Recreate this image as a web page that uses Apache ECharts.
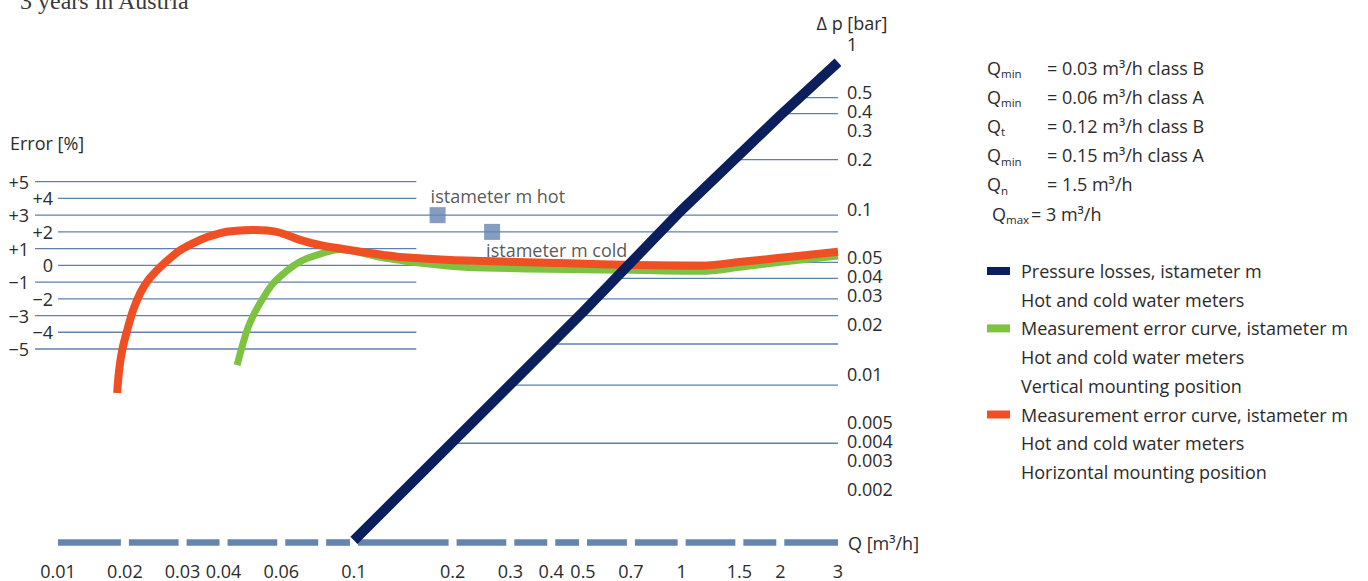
<!DOCTYPE html>
<html><head><meta charset="utf-8">
<script src="https://cdn.jsdelivr.net/npm/echarts@6/dist/echarts.min.js"></script>
<style>html,body{margin:0;padding:0;background:#fff}#c{width:1368px;height:581px}</style>
</head><body><div id="c"></div>
<script>
// ---------------- data ----------------
const X_MIN = 0.0125;           // drawn start of the flow axis (labelled 0.01)
const X_MAX = 3;
const X_TICK_VALUES = [0.01, 0.02, 0.03, 0.04, 0.06, 0.1, 0.2, 0.3, 0.4, 0.5, 0.7, 1, 1.5, 2, 3];
const X_TICK_LABELS = ['0.01', '0.02', '0.03', '0.04', '0.06', '0.1', '0.2', '0.3', '0.4', '0.5', '0.7', '1', '1.5', '2', '3'];
const X_DASH_BREAKS = [0.02, 0.03, 0.04, 0.06, 0.08, 0.1, 0.2, 0.3, 0.4, 0.5, 0.7, 1, 1.5, 2];

const P_MIN = 0.001, P_MAX = 1;
const P_TICK_VALUES = [1, 0.5, 0.4, 0.3, 0.2, 0.1, 0.05, 0.04, 0.03, 0.02, 0.01, 0.005, 0.004, 0.003, 0.002];
const P_TICK_LABELS = ['1', '0.5', '0.4', '0.3', '0.2', '0.1', '0.05', '0.04', '0.03', '0.02', '0.01', '0.005', '0.004', '0.003', '0.002'];
const P_GRID_VALUES = [0.5, 0.4, 0.21, 0.05, 0.04, 0.016, 0.009, 0.004];

const ERR_TICK_VALUES = [5, 4, 3, 2, 1, 0, -1, -2, -3, -4, -5];
const ERR_TICK_LABELS = ['+5', '+4', '+3', '+2', '+1', '0', '\u22121', '\u22122', '\u22123', '\u22124', '\u22125'];
const ERR_LONG_LINES = [3, 2, -2, -3];
const ERR_GRID_END_Q = 0.155;

const PRESSURE_Q  = [0.1, 0.5, 1, 2, 3];
const PRESSURE_DP = [0.00103, 0.025, 0.104, 0.39, 0.82];

// vertical mounting position (green)
const VERT_Q   = [0.0440, 0.0472, 0.0499, 0.0531, 0.0566, 0.0611, 0.0659, 0.0721, 0.0869, 0.0911, 0.097, 0.123, 0.138, 0.156, 0.197, 0.25, 0.45, 0.71, 1.15, 1.5, 2, 3];
const VERT_ERR = [-5.96, -3.87, -2.79, -1.88, -1.09, -0.48, 0.02, 0.42, 0.91, 0.94, 0.9, 0.45, 0.3, 0.15, -0.05, -0.16, -0.25, -0.3, -0.36, -0.12, 0.18, 0.56];

// horizontal mounting position (red)
const HORIZ_Q   = [0.01894, 0.01921, 0.01963, 0.02033, 0.0212, 0.02228, 0.02356, 0.02564, 0.02752, 0.02952, 0.03235, 0.0357, 0.03914, 0.04288, 0.04938, 0.05846, 0.0688, 0.0792, 0.0978, 0.123, 0.138, 0.197, 0.25, 0.45, 0.71, 1.15, 1.5, 2, 3];
const HORIZ_ERR = [-7.63, -6.26, -5.06, -3.87, -2.67, -1.66, -0.88, -0.10, 0.44, 0.91, 1.33, 1.69, 1.93, 2.05, 2.11, 1.99, 1.51, 1.2, 0.9, 0.62, 0.5, 0.32, 0.26, 0.12, 0.02, -0.02, 0.2, 0.45, 0.81];

const MARKER_Q = [0.18, 0.264];
const MARKER_ERR = [3, 2];
const MARKER_LABELS = ['istameter m hot', 'istameter m cold'];

const SERIES_NAMES = ['Pressure losses', 'Error vertical', 'Error horizontal'];
const LEGEND_LINES = [
  ['Pressure losses, istameter m', 'Hot and cold water meters'],
  ['Measurement error curve, istameter m', 'Hot and cold water meters', 'Vertical mounting position'],
  ['Measurement error curve, istameter m', 'Hot and cold water meters', 'Horizontal mounting position']
];
const Q_DEF_SUB  = ['min', 'min', 't', 'min', 'n', 'max'];
const Q_DEF_TEXT = ['= 0.03 m\u00b3/h class B', '= 0.06 m\u00b3/h class A', '= 0.12 m\u00b3/h class B',
                    '= 0.15 m\u00b3/h class A', '= 1.5 m\u00b3/h', '= 3 m\u00b3/h'];
const HEADLINE = '3 years in Austria';

// ---------------- style ----------------
const FONT = '"Open Sans", "Noto Sans", sans-serif';
const TEXT = '#2b2b2b';
const GRID_COLOR = '#6181ad';
const AXIS_COLOR = '#6585b0';
const C_BLUE = '#0b1f5c', C_GREEN = '#7dc243', C_RED = '#f04e23';
const FS = 18;
const GRID0 = {left: 58, right: 530, top: 48, bottom: 38.5};
const CHART_H = 581;

// ---------------- helpers ----------------
const zip = (a, b) => a.map((v, i) => [v, b[i]]);
const near = (a, b) => Math.abs(Math.log10(a) - Math.log10(b)) < 1e-6;
function qAtPressure(p) {
  const lp = Math.log10(p);
  for (let i = 0; i < PRESSURE_Q.length - 1; i++) {
    const a = Math.log10(PRESSURE_DP[i]), b = Math.log10(PRESSURE_DP[i + 1]);
    if (lp >= a && lp <= b) {
      const t = (lp - a) / (b - a);
      return Math.pow(10, Math.log10(PRESSURE_Q[i]) + t * (Math.log10(PRESSURE_Q[i + 1]) - Math.log10(PRESSURE_Q[i])));
    }
  }
  return X_MAX;
}
const X_LABEL_POS = X_TICK_VALUES.map(v => Math.max(v, X_MIN));
const DASH_BOUNDS = [X_MIN].concat(X_DASH_BREAKS, [X_MAX]);

// right-axis labels sit a little above their value; crowded neighbours are spread apart
const P_LABEL_SHIFT = (function () {
  const H = CHART_H - GRID0.top - GRID0.bottom;
  const pos = P_TICK_VALUES.map(p => H * (1 - Math.log10(p / P_MIN) / Math.log10(P_MAX / P_MIN)));
  const c = pos.map(y => y - 4);
  const MIN_GAP = 19;
  for (let i = 0; i < c.length - 1; i++) {
    const gap = c[i + 1] - c[i];
    if (gap < MIN_GAP) { const d = (MIN_GAP - gap) / 2; c[i] -= d; c[i + 1] += d; }
  }
  return c.map((y, i) => y - pos[i]);
})();
const P_RICH = {};
P_LABEL_SHIFT.forEach((s, i) => {
  P_RICH['p' + i] = {fontFamily: FONT, fontSize: FS, color: TEXT, lineHeight: 20,
    padding: s >= 0 ? [2 * s, 0, 0, 0] : [0, 0, -2 * s, 0]};
});

const chart = echarts.init(document.getElementById('c'), null, {renderer: 'svg'});

const plain = {fontFamily: FONT, fontWeight: 'normal', fontSize: FS, lineHeight: 24, color: TEXT};
const titles = [];
titles.push({text: HEADLINE, left: 20, top: -12, padding: 0,
  textStyle: {fontFamily: '"Liberation Serif", "DejaVu Serif", serif', fontWeight: 'normal', fontSize: 24, lineHeight: 26, color: '#3a3a3a'}});
titles.push({text: 'Error [%]', left: 10, top: 131, padding: 0, textStyle: plain});
Q_DEF_SUB.forEach((sub, k) => {
  const isMax = sub === 'max';
  titles.push({
    text: '{q|Q}{s|' + sub + '}{t|' + Q_DEF_TEXT[k] + '}',
    left: isMax ? 992 : 987, top: 67.5 + k * 29.2 - 12, padding: 0,
    textStyle: {
      fontWeight: 'normal',
      rich: {
        q: {fontFamily: FONT, fontWeight: 'normal', fontSize: FS, lineHeight: 24, color: TEXT, width: 14},
        s: {fontFamily: FONT, fontWeight: 'normal', fontSize: 11.5, lineHeight: 7, verticalAlign: 'bottom', color: TEXT, width: isMax ? 25 : 46},
        t: {fontFamily: FONT, fontWeight: 'normal', fontSize: FS, lineHeight: 24, color: TEXT}
      }
    }
  });
});
let lineIdx = 0;
const LEGEND_TOPS = [];
LEGEND_LINES.forEach(lines => {
  lines.forEach((txt, j) => {
    const cy = 271 + lineIdx * 28.7;
    if (j === 0) LEGEND_TOPS.push(cy);
    else titles.push({text: txt, left: 1021, top: cy - 12, padding: 0, textStyle: plain});
    lineIdx++;
  });
});

const option = {
  animation: false,
  backgroundColor: '#ffffff',
  textStyle: {fontFamily: FONT},
  title: titles,
  legend: SERIES_NAMES.map((name, i) => ({
    data: [{name: name, icon: 'rect'}],
    orient: 'vertical', left: 987, top: LEGEND_TOPS[i] - 12, padding: 0,
    itemWidth: 23, itemHeight: 8, selectedMode: false,
    formatter: n => LEGEND_LINES[SERIES_NAMES.indexOf(n)][0],
    textStyle: {fontFamily: FONT, fontSize: FS, lineHeight: 24, color: TEXT, padding: [0, 0, 0, 6]}
  })),
  grid: [
    GRID0,
    {left: 58, right: 530, top: 181.7, bottom: 232}
  ],
  xAxis: [
    {type: 'log', gridIndex: 0, min: X_MIN, max: X_MAX, logBase: 10,
     axisLine: {show: false}, axisTick: {show: false}, splitLine: {show: false},
     name: 'Q [m\u00b3/h]', nameLocation: 'end', nameGap: 10,
     nameTextStyle: {fontFamily: FONT, fontSize: FS, color: TEXT, verticalAlign: 'middle'},
     axisLabel: {customValues: X_LABEL_POS, margin: 21, lineHeight: 14, fontFamily: FONT, fontSize: FS, color: TEXT,
       formatter: v => { const i = X_LABEL_POS.findIndex(p => near(p, v)); return i >= 0 ? X_TICK_LABELS[i] : ''; }}},
    {type: 'log', gridIndex: 1, min: X_MIN, max: X_MAX, logBase: 10, show: false}
  ],
  yAxis: [
    {type: 'log', gridIndex: 0, position: 'right', min: P_MIN, max: P_MAX, logBase: 10,
     axisLine: {show: false}, axisTick: {show: false}, splitLine: {show: false},
     name: '\u0394 p [bar]', nameLocation: 'end', nameGap: 16,
     nameTextStyle: {fontFamily: FONT, fontSize: FS, color: TEXT, padding: [0, 0, 0, 28]},
     axisLabel: {customValues: P_TICK_VALUES, margin: 9, fontFamily: FONT, fontSize: FS, color: TEXT,
       verticalAlign: 'middle', rich: P_RICH,
       formatter: v => { const i = P_TICK_VALUES.findIndex(p => near(p, v)); return i >= 0 ? '{p' + i + '|' + P_TICK_LABELS[i] + '}' : ''; }}},
    {type: 'value', gridIndex: 1, position: 'left', min: -5, max: 5,
     axisLine: {show: false}, axisTick: {show: false}, splitLine: {show: false},
     axisLabel: {customValues: ERR_TICK_VALUES, margin: 5, fontFamily: FONT, fontSize: FS, color: TEXT,
       formatter: v => { const i = ERR_TICK_VALUES.indexOf(Math.round(v)); const odd = Math.abs(Math.round(v)) % 2 === 1;
         return (odd ? '{o|' : '{e|') + ERR_TICK_LABELS[i] + '}'; },
       rich: {o: {fontFamily: FONT, fontSize: FS, color: TEXT, padding: [0, 24, 0, 0]},
              e: {fontFamily: FONT, fontSize: FS, color: TEXT}}}}
  ],
  series: [
    { // error grid lines
      type: 'custom', xAxisIndex: 1, yAxisIndex: 1, silent: true, clip: false, z: 1,
      data: ERR_TICK_VALUES.map(v => [ERR_GRID_END_Q, v]),
      renderItem: (params, api) => {
        const v = api.value(1);
        const odd = Math.abs(v) % 2 === 1;
        const s = api.coord([X_MIN, v]);
        const e = api.coord([ERR_LONG_LINES.indexOf(v) >= 0 ? X_MAX : api.value(0), v]);
        return {type: 'line', shape: {x1: s[0] - (odd ? 23 : 0), y1: s[1], x2: e[0], y2: e[1]},
                style: {stroke: GRID_COLOR, lineWidth: 1.3}};
      }
    },
    { // pressure grid lines, from the pressure curve to the right axis
      type: 'custom', xAxisIndex: 0, yAxisIndex: 0, silent: true, clip: false, z: 1,
      data: P_GRID_VALUES.map(p => [qAtPressure(p), p]),
      renderItem: (params, api) => {
        const s = api.coord([api.value(0), api.value(1)]);
        const e = api.coord([X_MAX, api.value(1)]);
        return {type: 'line', shape: {x1: s[0], y1: s[1], x2: e[0], y2: e[1]},
                style: {stroke: GRID_COLOR, lineWidth: 1.3}};
      }
    },
    { // dashed flow axis, gaps at the tick values
      type: 'custom', xAxisIndex: 0, yAxisIndex: 0, silent: true, clip: false, z: 2,
      data: DASH_BOUNDS.slice(0, -1).map((a, i) => [a, DASH_BOUNDS[i + 1]]),
      renderItem: (params, api) => {
        const a = api.coord([api.value(0), P_MIN]);
        const b = api.coord([api.value(1), P_MIN]);
        const g0 = params.dataIndex === 0 ? 0 : 4;
        const g1 = params.dataIndex === DASH_BOUNDS.length - 2 ? 0 : 4;
        return {type: 'rect', shape: {x: a[0] + g0, y: a[1] - 3.3, width: b[0] - a[0] - g0 - g1, height: 6.6},
                style: {fill: AXIS_COLOR}};
      }
    },
    {name: SERIES_NAMES[1], type: 'line', xAxisIndex: 1, yAxisIndex: 1, clip: false, z: 3,
     data: zip(VERT_Q, VERT_ERR), smooth: 0.3, showSymbol: false, symbol: 'none',
     itemStyle: {color: C_GREEN}, lineStyle: {color: C_GREEN, width: 7, join: 'round'}},
    {name: SERIES_NAMES[2], type: 'line', xAxisIndex: 1, yAxisIndex: 1, clip: false, z: 4,
     data: zip(HORIZ_Q, HORIZ_ERR), smooth: 0.3, showSymbol: false, symbol: 'none',
     itemStyle: {color: C_RED}, lineStyle: {color: C_RED, width: 8, join: 'round'}},
    {name: SERIES_NAMES[0], type: 'line', xAxisIndex: 0, yAxisIndex: 0, clip: false, z: 5,
     data: zip(PRESSURE_Q, PRESSURE_DP), showSymbol: false, symbol: 'none',
     itemStyle: {color: C_BLUE}, lineStyle: {color: C_BLUE, width: 10}},
    {type: 'scatter', xAxisIndex: 1, yAxisIndex: 1, z: 6, symbol: 'rect', symbolSize: 16,
     itemStyle: {color: AXIS_COLOR},
     data: MARKER_Q.map((q, i) => ({value: [q, MARKER_ERR[i]],
       label: {show: true, formatter: MARKER_LABELS[i], position: i === 0 ? [1, -11] : [2, 26],
               align: 'left', verticalAlign: 'middle', fontFamily: FONT, fontSize: FS, color: TEXT}}))}
  ]
};
chart.setOption(option);
</script>
</body></html>
